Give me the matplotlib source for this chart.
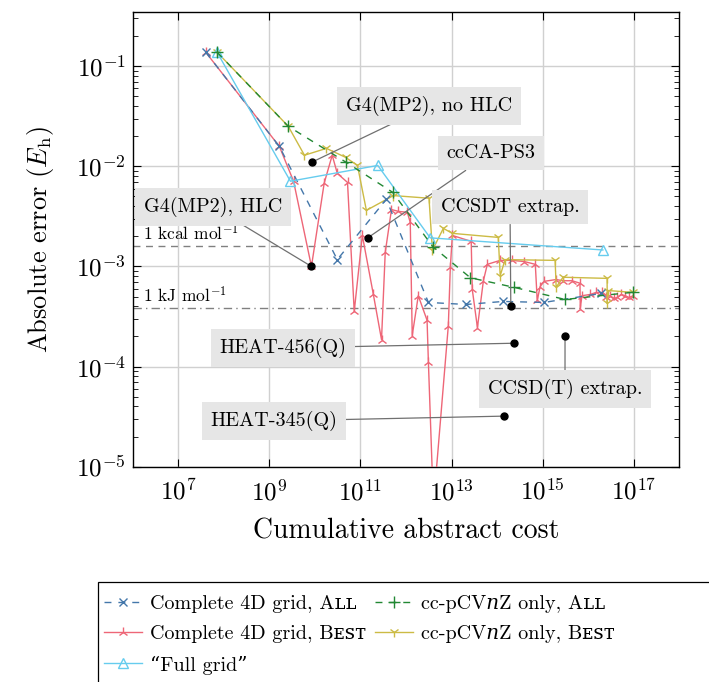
import matplotlib
matplotlib.use("Agg")
import matplotlib.pyplot as plt
from matplotlib.patches import Rectangle

plt.rcParams.update({
    "font.family": ["cmr10", "DejaVu Serif", "DejaVu Sans", "STIXGeneral"],
    "mathtext.fontset": "cm",
    "axes.formatter.use_mathtext": True,
    "axes.unicode_minus": True,
})

# ---- data: cumulative abstract cost vs absolute error (Eh) ----
grid_all_cost = [4.0e7, 1.66e9, 3.1e10, 3.7e11, 3.1e12, 2.1e13, 1.35e14, 1.07e15, 1.9e16]
grid_all_err = [0.138, 0.0158, 1.17e-3, 4.68e-3, 4.37e-4, 4.17e-4, 4.47e-4, 4.37e-4, 5.37e-4]

grid_best_cost = [4.0e7, 1.66e9, 3.4e9, 8.4e9, 1.6e10, 2.4e10, 3.1e10, 5.2e10, 7.3e10,
                  1.1e11, 1.92e11, 2.9e11, 3.5e11, 4.8e11, 6.8e11, 1.07e12, 1.24e12,
                  1.37e12, 1.86e12, 2.9e12, 3.1e12, 4.0e12, 8.5e12, 9.4e12, 1.04e13,
                  2.7e13, 2.85e13, 3.7e13, 5.0e13, 6.1e13, 1.17e14, 2.1e14, 3.9e14,
                  6.9e14, 7.6e14, 8.8e14, 1.08e15, 1.98e15, 2.8e15, 4.4e15, 6.6e15,
                  6.7e15, 7.3e15, 1.1e16, 1.49e16, 2.0e16, 2.5e16, 3.0e16, 3.7e16,
                  4.3e16, 5.3e16, 6.5e16, 7.9e16, 9.7e16]
grid_best_err = [0.138, 0.0158, 7.1e-3, 1.0e-3, 6.8e-3, 0.0129, 8.5e-3, 6.9e-3, 3.55e-4,
                 2.04e-3, 5.25e-4, 1.86e-4, 1.38e-3, 3.7e-3, 3.55e-3, 3.47e-3, 2.75e-3,
                 2.04e-4, 5.1e-4, 2.9e-4, 1.12e-4, 4.1e-6, 2.57e-4, 9.8e-4, 2.04e-3,
                 1.78e-3, 5.9e-4, 2.45e-4, 7.2e-4, 1.05e-3, 1.15e-3, 1.15e-3, 1.12e-3,
                 1.05e-3, 4.57e-4, 6.3e-4, 7.1e-4, 7.4e-4, 7.2e-4, 7.2e-4, 6.8e-4,
                 3.8e-4, 5.1e-4, 5.25e-4, 5.5e-4, 5.5e-4, 5.0e-4, 5.1e-4, 4.8e-4,
                 4.9e-4, 5.25e-4, 5.1e-4, 4.9e-4, 5.1e-4]

full_grid_cost = [7.1e7, 2.9e9, 2.4e11, 3.4e12, 2.1e16]
full_grid_err = [0.138, 7.1e-3, 0.0102, 1.93e-3, 1.46e-3]

cv_all_cost = [7.1e7, 2.6e9, 4.8e10, 5.1e11, 3.9e12, 2.6e13, 2.3e14, 3.1e15, 9.8e16]
cv_all_err = [0.138, 0.0251, 0.0110, 5.5e-3, 1.57e-3, 7.7e-4, 6.2e-4, 4.68e-4, 5.53e-4]

cv_best_cost = [7.1e7, 2.6e9, 5.9e9, 1.79e10, 4.7e10, 8.6e10, 1.35e11, 5.3e11, 3.2e12,
                3.8e12, 6.6e12, 1.04e13, 1.06e14, 1.17e14, 1.5e14, 1.88e15, 1.98e15,
                2.8e15, 2.6e16, 2.62e16, 2.7e16, 9.7e16]
cv_best_err = [0.138, 0.0251, 0.0129, 0.0151, 0.0123, 0.0102, 3.63e-3, 5.1e-3, 4.8e-3,
               1.45e-3, 2.4e-3, 2.14e-3, 1.95e-3, 8.1e-4, 1.17e-3, 1.15e-3, 6.2e-4,
               7.8e-4, 7.6e-4, 4.27e-4, 5.75e-4, 5.5e-4]

series_labels = ["Complete 4D grid, Aʟʟ", "Complete 4D grid, Bᴇꜱᴛ", "“Full grid”",
                 "cc-pCV𝑛Z only, Aʟʟ", "cc-pCV𝑛Z only, Bᴇꜱᴛ"]

# literature composite methods
method_names = ["G4(MP2), no HLC", "ccCA-PS3", "CCSDT extrap.", "G4(MP2), HLC",
                "HEAT-456(Q)", "HEAT-345(Q)", "CCSD(T) extrap."]
method_cost = [8.6e9, 1.47e11, 2.0e14, 8.4e9, 2.3e14, 1.43e14, 3.1e15]
method_err = [0.0110, 1.94e-3, 4.0e-4, 1.0e-3, 1.71e-4, 3.2e-5, 2.0e-4]
# label box centres in figure pixels (from top-left)
label_pos = [(429, 106), (491, 153), (510, 207), (213, 207),
             (283, 348), (274, 421), (565, 389)]

kcal_in_eh = 1.0 / 627.5095
kj_in_eh = 1.0 / 2625.4996

W, H = 709, 682
fig = plt.figure(figsize=(W / 100, H / 100), dpi=100)
ax = fig.add_axes([132.7 / W, 1 - 466.7 / H, 546.6 / W, 455.0 / H])

blue, red, green, yellow, cyan = "#4477AA", "#EE6677", "#228833", "#CCBB44", "#66CCEE"

h1, = ax.plot(grid_all_cost, grid_all_err, color=blue, lw=1.0, ls=(0, (5, 5)),
              marker="x", ms=6, mew=1.0, zorder=4)
h2, = ax.plot(grid_best_cost, grid_best_err, color=red, lw=1.0,
              marker="2", ms=7.5, mew=1.0, zorder=3)
h3, = ax.plot(full_grid_cost, full_grid_err, color=cyan, lw=1.0,
              marker="^", ms=7, mfc="none", mew=1.0, zorder=4)
h4, = ax.plot(cv_all_cost, cv_all_err, color=green, lw=1.0, ls=(0, (5, 5)),
              marker="+", ms=8, mew=1.0, zorder=4)
h5, = ax.plot(cv_best_cost, cv_best_err, color=yellow, lw=1.0,
              marker="1", ms=7.5, mew=1.0, zorder=3)

# chemical-accuracy reference lines
ax.axhline(kcal_in_eh, color="#808080", lw=1.0, ls=(0, (5, 4)), zorder=2)
ax.axhline(kj_in_eh, color="#808080", lw=1.0, ls=(0, (6, 3, 1, 3)), zorder=2)
ax.text(0.019, kcal_in_eh * 1.07, r"1 kcal mol$^{-1}$", transform=ax.get_yaxis_transform(),
        fontsize=12.5, ha="left", va="bottom", zorder=2)
ax.text(0.019, kj_in_eh * 1.07, r"1 kJ mol$^{-1}$", transform=ax.get_yaxis_transform(),
        fontsize=12.5, ha="left", va="bottom", zorder=2)

for name, c, e, (px, py) in zip(method_names, method_cost, method_err, label_pos):
    ax.annotate(name, xy=(c, e), xycoords="data",
                xytext=(px / W, 1 - py / H), textcoords="figure fraction",
                ha="center", va="center", fontsize=14.5, zorder=10,
                bbox=dict(boxstyle="square,pad=0.42", fc="#e6e6e6", ec="none"),
                arrowprops=dict(arrowstyle="-", color="#707070", lw=0.9,
                                shrinkA=0, shrinkB=0))
    ax.plot(c, e, "o", color="black", ms=5, zorder=11)

ax.set_xscale("log")
ax.set_yscale("log")
ax.set_xlim(1e6, 1e18)
ax.set_ylim(1e-5, 0.35)
ax.set_xticks([1e7, 1e9, 1e11, 1e13, 1e15, 1e17])
ax.xaxis.set_minor_locator(matplotlib.ticker.NullLocator())
ax.grid(True, which="major", color="#d0d0d0", lw=1.0, zorder=0)
ax.set_axisbelow(True)
ax.tick_params(which="both", direction="in", top=True, right=True)
ax.tick_params(which="major", length=6, width=0.8, labelsize=18)
ax.tick_params(axis="x", which="major", pad=9)
ax.tick_params(axis="y", which="major", pad=5)
ax.tick_params(which="minor", length=3.5, width=0.6)
for sp in ax.spines.values():
    sp.set_linewidth(1.0)

ax.set_xlabel("Cumulative abstract cost", fontsize=20, labelpad=9)
ax.set_ylabel(r"Absolute error ($E_\mathrm{h}$)", fontsize=19, labelpad=14)

leg = fig.legend([h1, h2, h3, h4, h5], series_labels, ncol=2, loc="upper left",
                 bbox_to_anchor=(91 / W, 1 - 582 / H), bbox_transform=fig.transFigure,
                 fontsize=14.5, frameon=False, handlelength=1.9, handletextpad=0.4,
                 columnspacing=0.4, labelspacing=0.6, borderaxespad=0, borderpad=0.65)
fig.patches.append(Rectangle((98 / W, -0.05), 0.9, 1.05 - 582 / H, transform=fig.transFigure,
                             fill=False, ec="black", lw=0.9))

fig.savefig("out.png", dpi=100)
